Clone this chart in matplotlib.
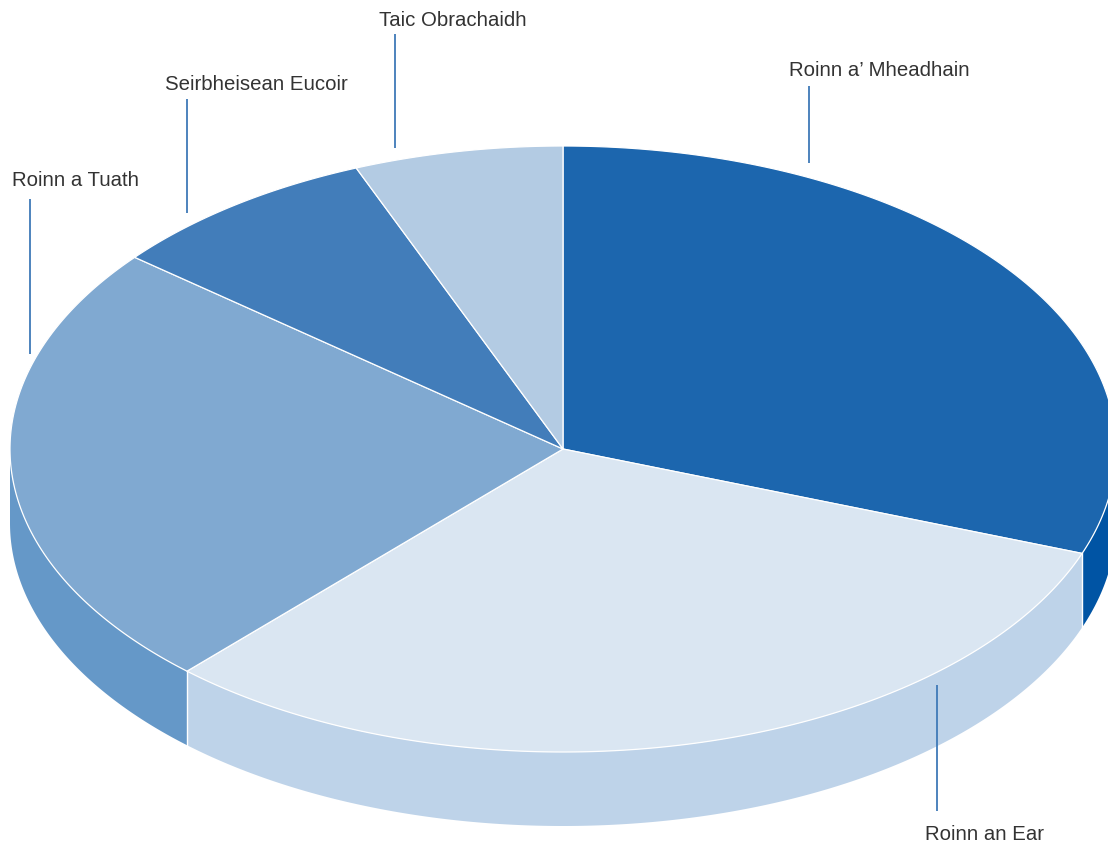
import numpy as np
import matplotlib
matplotlib.use('Agg')
import matplotlib.pyplot as plt

# slices, clockwise from 12 o'clock (share of the pie in percent)
labels = ["Roinn a\u2019 Mheadhain", "Roinn an Ear", "Roinn a Tuath",
          "Seirbheisean Eucoir", "Taic Obrachaidh"]
shares = [30.6, 31.3, 24.0, 8.0, 6.1]
top_colors = ['#1c66ae', '#dae6f2', '#80a9d1', '#427dba', '#b3cbe3']
side_colors = ['#0054a4', '#bed3e9', '#6598c8', '#427dba', '#b3cbe3']

W, H = 1108, 845
CX, CY = 563, 450
RX, RY = 553, 303
DEPTH = 74

# label anchor (left x, centre y) and leader line (x, y0, y1)
label_pos = [(789, 71), (925, 835), (12, 181), (165, 84), (379, 20)]
leaders = [(809, 87, 164), (937, 686, 812), (30, 200, 355), (187, 100, 214), (395, 35, 149)]

plt.rcParams['font.family'] = ['Liberation Sans', 'DejaVu Sans']

fig = plt.figure(figsize=(W / 100, H / 100), dpi=100)
ax = fig.add_axes([0, 0, 1, 1])
ax.set_xlim(0, W)
ax.set_ylim(H, 0)
ax.axis('off')


def rim(a0, a1):
    t = np.radians(np.linspace(a0, a1, 200))
    return CX + RX * np.sin(t), CY - RY * np.cos(t)


edges = np.concatenate([[0], np.cumsum(shares)]) / np.sum(shares) * 360

# side wall, only the front half of the ellipse shows
for i in range(len(shares)):
    a0, a1 = max(edges[i], 90), min(edges[i + 1], 270)
    if a1 <= a0:
        continue
    x, y = rim(a0, a1)
    ax.fill(np.r_[x, x[::-1]], np.r_[y, y[::-1] + DEPTH],
            color=side_colors[i], lw=0, zorder=1)
    # white seam where one side piece meets the next
    if edges[i + 1] < 270:
        ax.plot([x[-1], x[-1]], [y[-1], y[-1] + DEPTH], color='white', lw=1.0, zorder=2)

# top face
for i in range(len(shares)):
    x, y = rim(edges[i], edges[i + 1])
    ax.fill(np.r_[CX, x], np.r_[CY, y], facecolor=top_colors[i],
            edgecolor='white', lw=0.9, joinstyle='round', zorder=3)

for name, (lx, ly), (sx, s0, s1) in zip(labels, label_pos, leaders):
    ax.text(lx, ly, name, fontsize=14.7, color='#333333',
            ha='left', va='center', zorder=5)
    ax.plot([sx, sx], [s0, s1], color='#3f7ab8', lw=1.3, solid_capstyle='butt', zorder=4)

fig.savefig('out.png', dpi=100)
